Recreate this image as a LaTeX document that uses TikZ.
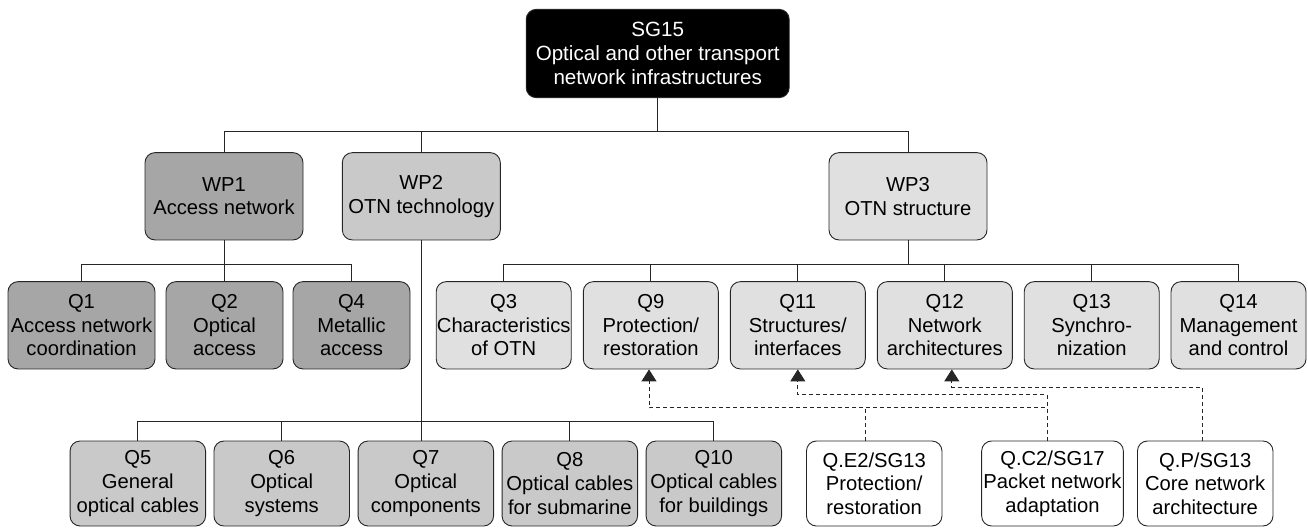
\documentclass[tikz,border=0pt]{standalone}
\usepackage{fontspec}
\setmainfont{Liberation Sans}
\usetikzlibrary{arrows.meta}
\definecolor{cdark}{gray}{0.65}
\definecolor{cmid}{gray}{0.79}
\definecolor{clight}{gray}{0.88}
\begin{document}
\begin{tikzpicture}[x=1pt,y=-1pt,
  font=\fontsize{20.2}{23.6}\selectfont,
  box/.style={draw=black!85, line width=0.9pt, rounded corners=10pt, align=center, inner sep=0pt},
  wpbox/.style={box, minimum width=158pt, minimum height=87.3pt},
  qtop/.style={box, minimum width=135pt, minimum height=87.3pt},
  qbot/.style={box, minimum width=135.5pt, minimum height=85pt},
  tree/.style={draw=black!85, line width=0.9pt},
  dep/.style={draw=black!85, line width=0.9pt, dash pattern=on 4pt off 3pt, -{Triangle[width=15pt,length=12pt]}},
  deplain/.style={draw=black!85, line width=0.9pt, dash pattern=on 4pt off 3pt}
]
\useasboundingbox (0,0) rectangle (1308,527);

% top
\node[box, fill=black, text=white, minimum width=263pt, minimum height=88.3pt,
      font=\fontsize{20.6}{24}\selectfont] (sg) at (657.7,53.5)
      {SG15\\Optical and other transport\\network infrastructures};

% working parties
\node[wpbox, fill=cdark]  (wp1) at (224,196.3) {WP1\\Access network};
\node[wpbox, fill=cmid]   (wp2) at (421.3,196.3) {WP2\\OTN technology};
\node[wpbox, fill=clight] (wp3) at (908,196.3) {WP3\\OTN structure};

% WP1 questions
\node[qtop, fill=cdark, minimum width=147pt] (q1) at (81.5,325.3) {Q1\\Access network\\coordination};
\node[qtop, fill=cdark, minimum width=117pt] (q2) at (224.5,325.3) {Q2\\Optical\\access};
\node[qtop, fill=cdark, minimum width=117pt] (q4) at (351.5,325.3) {Q4\\Metallic\\access};

% WP3 questions
\node[qtop, fill=clight] (q3)  at (503.7,325.3)  {Q3\\Characteristics\\of OTN};
\node[qtop, fill=clight] (q9)  at (650.8,325.3)  {Q9\\Protection/\\restoration};
\node[qtop, fill=clight] (q11) at (797.8,325.3)  {Q11\\Structures/\\interfaces};
\node[qtop, fill=clight] (q12) at (944.8,325.3)  {Q12\\Network\\architectures};
\node[qtop, fill=clight] (q13) at (1091.7,325.3) {Q13\\Synchro-\\nization};
\node[qtop, fill=clight] (q14) at (1238.5,325.3) {Q14\\Management\\and control};

% WP2 questions
\node[qbot, fill=cmid] (q5)  at (137.8,483.5) {Q5\\General\\optical cables};
\node[qbot, fill=cmid] (q6)  at (281.7,483.5) {Q6\\Optical\\systems};
\node[qbot, fill=cmid] (q7)  at (425.8,483.5) {Q7\\Optical\\components};
\node[qbot, fill=cmid] (q8)  at (569.8,483.5) {Q8\\Optical cables\\for submarine};
\node[qbot, fill=cmid] (q10) at (713.8,483.5) {Q10\\Optical cables\\for buildings};

% external questions
\node[qbot, fill=white] (qe2) at (874.2,483.5) {Q.E2/SG13\\Protection/\\restoration};
\node[qbot, fill=white, minimum width=141.7pt] (qc2) at (1052.5,483.5) {Q.C2/SG17\\Packet network\\adaptation};
\node[qbot, fill=white] (qp) at (1205.2,483.5) {Q.P/SG13\\Core network\\architecture};

% tree connectors
\coordinate (b0) at (0,131.7);
\coordinate (b1) at (0,264.3);
\coordinate (b2) at (0,421.7);

\draw[tree] (sg.south) -- (sg.south |- b0);
\draw[tree] (wp1.north) |- (b0 -| wp3.north) -- (wp3.north);
\draw[tree] (wp2.north) -- (wp2.north |- b0);

\draw[tree] (wp1.south) -- (wp1.south |- b1);
\draw[tree] (q1.north) |- (b1 -| q4.north) -- (q4.north);
\draw[tree] (q2.north) -- (q2.north |- b1);

\draw[tree] (wp3.south) -- (wp3.south |- b1);
\draw[tree] (q3.north) |- (b1 -| q14.north) -- (q14.north);
\foreach \n in {q9,q11,q12,q13} \draw[tree] (\n.north) -- (\n.north |- b1);

\draw[tree] (wp2.south) -- (wp2.south |- q7.north);
\draw[tree] (q5.north) |- (b2 -| q10.north) -- (q10.north);
\foreach \n in {q6,q8} \draw[tree] (\n.north) -- (\n.north |- b2);

% dashed dependencies
\coordinate (d1) at (0,407.7);
\coordinate (d2) at (0,394.3);
\coordinate (d3) at (0,387.3);
\coordinate (qe2top) at ([xshift=-8.5pt]qe2.north);
\coordinate (qc2top) at ([xshift=-5.5pt]qc2.north);
\coordinate (qptop) at ([xshift=-2.5pt]qp.north);
\coordinate (q9bot) at ([xshift=-1.8pt]q9.south);
\coordinate (q12bot) at ([xshift=7pt]q12.south);

\draw[deplain] (qe2top) -- (qe2top |- d1);
\draw[dep] (qc2top) |- (d1 -| q9bot) -- (q9bot);
\draw[dep] (qc2top) |- (d2 -| q11.south) -- (q11.south);
\draw[dep] (qptop) |- (d3 -| q12bot) -- (q12bot);
\end{tikzpicture}
\end{document}
